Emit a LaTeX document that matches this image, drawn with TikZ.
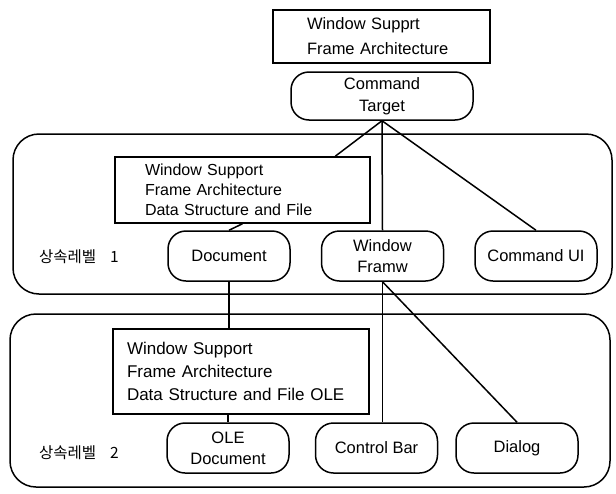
\documentclass[tikz,border=0pt]{standalone}
\usepackage{fontspec}
\setmainfont{Liberation Sans}
\newfontfamily\kor{Noto Sans CJK KR}
\usetikzlibrary{positioning}

\begin{document}
\begin{tikzpicture}[x=1pt, y=-1pt, line width=1.5pt, node distance=30pt,
    font=\fontsize{16.5}{21}\selectfont]
  \tikzstyle{rnd}=[draw, rounded corners=18pt, minimum width=122pt, minimum height=50pt, align=center, inner sep=2pt]
  \tikzstyle{lst}=[draw, align=left, inner ysep=0pt]
  \tikzstyle{lvl}=[draw, rounded corners=26pt]
  \tikzstyle{lab}=[anchor=west, font=\kor\fontsize{15.5}{18}\selectfont]

  \useasboundingbox (0,0) rectangle (616,493);

  % levels
  \node[lvl, minimum width=599pt, minimum height=160pt] (lvl1) at (312.5,214) {};
  \node[lvl, minimum width=600pt, minimum height=173pt] (lvl2) at (310,400.5) {};
  \node[lab] (lab1) at (35,257) {상속레벨\hspace{14pt}1};
  \node[lab] (lab2) at (35,453) {상속레벨\hspace{14pt}2};

  % top
  \node[lst, text width=149pt, inner xsep=34pt, minimum height=53pt,
        font=\fontsize{16.5}{25}\selectfont] (frm0) at (381.5,36.5) {Window Supprt\\Frame Architecture};
  \node[rnd, minimum width=182pt, minimum height=48pt,
        font=\fontsize{16.5}{22}\selectfont] (ct) at (382,96) {Command\\Target};

  % level 1
  \node[lst, text width=195pt, inner xsep=30pt, minimum height=66pt,
        font=\fontsize{16}{20}\selectfont] (frm1) at (242.5,190) {Window Support\\Frame Architecture\\Data Structure and File};
  \node[rnd] (doc) at (229,256) {Document};
  \node[rnd, right=of doc] (wf) {Window\\Framw};
  \node[rnd, right=of wf] (cui) {Command UI};

  % level 2
  \node[lst, text width=228pt, inner xsep=14pt, minimum height=85pt,
        font=\fontsize{17}{23}\selectfont] (frm2) at (241,371.5) {Window Support\\Frame Architecture\\Data Structure and File OLE};
  \node[rnd] (oled) at (228,448) {OLE\\Document};
  \node[rnd, right=25pt of oled] (cbar) {Control Bar};
  \node[rnd, right=17pt of cbar] (dlg) {Dialog};

  \draw (ct.south) -- (frm1.20);
  \draw (ct.south) -- (wf.north);
  \draw (ct.south) -- (cui.north);
  \draw (frm1.south) -- (doc.north);
  \draw (doc.south) -- (doc.south |- frm2.north);
  \draw (oled.north |- frm2.south) -- (oled.north);
  \draw (wf.south) -- (wf.south |- cbar.north);
  \draw (wf.south) -- (dlg.north);
\end{tikzpicture}
\end{document}
